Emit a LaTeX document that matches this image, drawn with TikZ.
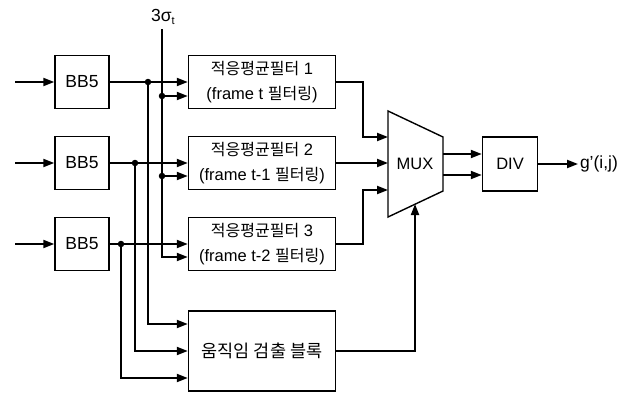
\documentclass[tikz,border=0pt]{standalone}
\usepackage{fontspec}
\setmainfont{Liberation Sans}
\newfontfamily\kr{Noto Sans CJK KR}
\usetikzlibrary{arrows.meta}
\begin{document}
\begin{tikzpicture}[x=1pt,y=-1pt, line width=2pt,
  box/.style={draw, line width=1.4pt, inner sep=0pt, font=\fontsize{16.5}{25}\selectfont, align=center},
  arr/.style={-{Triangle[length=11pt,width=8pt]}},
  dot/.style={circle, fill, inner sep=0pt, minimum size=6.5pt}]
\useasboundingbox (0,0) rectangle (631,394);
% BB5 blocks
\node[box, font=\fontsize{17.5}{20}\selectfont, minimum width=54pt, minimum height=53pt] (bb1) at (82,82) {BB5};
\node[box, font=\fontsize{17.5}{20}\selectfont, minimum width=54pt, minimum height=53pt] (bb2) at (82,163) {BB5};
\node[box, font=\fontsize{17.5}{20}\selectfont, minimum width=54pt, minimum height=53pt] (bb3) at (82,244) {BB5};
% filters
\node[box, minimum width=147pt, minimum height=53pt] (f1) at (262,82) {{\kr\fontsize{16}{25}\selectfont 적응평균필터} 1\\({frame t} {\kr\fontsize{16}{25}\selectfont 필터링})};
\node[box, minimum width=147pt, minimum height=53pt] (f2) at (262,163) {{\kr\fontsize{16}{25}\selectfont 적응평균필터} 2\\({frame t-1} {\kr\fontsize{16}{25}\selectfont 필터링})};
\node[box, minimum width=147pt, minimum height=53pt] (f3) at (262,244) {{\kr\fontsize{16}{25}\selectfont 적응평균필터} 3\\({frame t-2} {\kr\fontsize{16}{25}\selectfont 필터링})};
% motion detection
\node[box, minimum width=147pt, minimum height=80pt] (mo) at (262,351) {{\kr\fontsize{17.5}{20}\selectfont 움직임 검출 블록}};
% DIV
\node[box, minimum width=55pt, minimum height=54pt] (div) at (510,164) {DIV};
% MUX
\draw[line width=1.4pt] (388,111) -- (443,137) -- (443,191) -- (388,217) -- cycle;
\node[font=\fontsize{16.5}{16}\selectfont] (mux) at (415,164) {MUX};
\coordinate (mi1) at (388,137);
\coordinate (mi2) at (388,163);
\coordinate (mi3) at (388,190);
\coordinate (mb) at (415,204);
\coordinate (mo1) at (443,154);
\coordinate (mo2) at (443,175);
% output label
\node[anchor=west, inner sep=1pt, font=\fontsize{17.5}{16}\selectfont] (g) at (578,164) {g’(i,j)};
% sigma label
\node[font=\fontsize{17.5}{16}\selectfont] (sig) at (163,17) {3σ\raisebox{-2.5pt}{\fontsize{11}{11}\selectfont t}};
% inputs
\coordinate (i1) at (15,82);
\coordinate (i2) at (15,163);
\coordinate (i3) at (15,244);
\draw[arr] (i1) -- (bb1);
\draw[arr] (i2) -- (bb2);
\draw[arr] (i3) -- (bb3);
% BB5 to filters
\draw[arr] (bb1.east) -- (f1.west);
\draw[arr] (bb2.east) -- (f2.west);
\draw[arr] (bb3.east) -- (f3.west);
% branch dots
\coordinate (d1) at (148,82);
\coordinate (d2) at (135,163);
\coordinate (d3) at (121,244);
\node[dot] at (d1) {};
\node[dot] at (d2) {};
\node[dot] at (d3) {};
\draw[arr] (d1) |- ([yshift=27pt]mo.west);
\draw[arr] (d2) |- (mo.west);
\draw[arr] (d3) |- ([yshift=-27pt]mo.west);
% 3 sigma line
\coordinate (s0) at (162,29);
\coordinate (s1) at (162,96);
\coordinate (s2) at (162,176);
\node[dot] at (s1) {};
\node[dot] at (s2) {};
\draw[arr] (s0) |- ([yshift=-13pt]f3.west);
\draw[arr] (s1) -- ([yshift=-14pt]f1.west);
\draw[arr] (s2) -- ([yshift=-13pt]f2.west);
% filters to MUX
\draw[arr] (f1.east) -- ++(27,0) |- (mi1);
\draw[arr] (f2.east) -- (mi2);
\draw[arr] (f3.east) -- ++(27,0) |- (mi3);
% motion to MUX
\draw[arr] (mo.east) -| (mb);
% MUX to DIV
\draw[arr] (mo1) -- (mo1 -| div.west);
\draw[arr] (mo2) -- (mo2 -| div.west);
% DIV out
\draw[arr] (div.east) -- (g.west);
\end{tikzpicture}
\end{document}
